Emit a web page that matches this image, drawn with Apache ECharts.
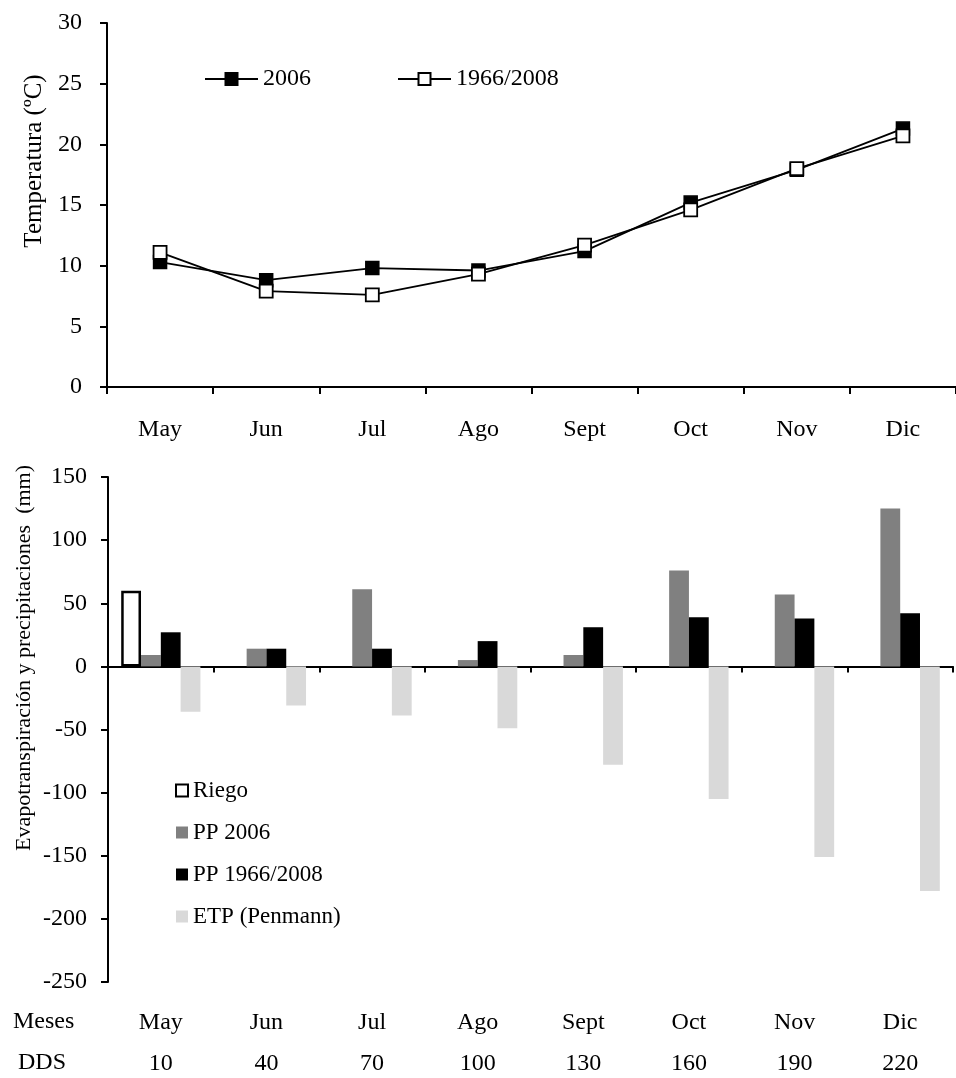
<!DOCTYPE html>
<html>
<head>
<meta charset="utf-8">
<script src="https://cdn.jsdelivr.net/npm/echarts@6/dist/echarts.min.js"></script>
<style>
  html, body { margin: 0; padding: 0; background: #fff; }
  #chart { width: 956px; height: 1078px; }
</style>
</head>
<body>
<div id="chart"></div>
<script>
// Months of the season and days after sowing (DDS)
const months = ['May', 'Jun', 'Jul', 'Ago', 'Sept', 'Oct', 'Nov', 'Dic'];
const dds = ['10', '40', '70', '100', '130', '160', '190', '220'];

// Mean monthly temperature (ºC)
const temp2006 = [10.3, 8.8, 9.8, 9.6, 11.2, 15.2, 17.9, 21.3];
const temp1966_2008 = [11.1, 7.9, 7.6, 9.3, 11.7, 14.6, 18.0, 20.7];

// Water balance (mm)
const riego = [60, null, null, null, null, null, null, null];
const pp2006 = [9, 14, 61, 5, 9, 76, 57, 125];
const pp1966_2008 = [27, 14, 14, 20, 31, 39, 38, 42];
const etpPenmann = [-36, -31, -39, -49, -78, -105, -151, -178];

const FONT = 'Liberation Serif, Times New Roman, serif';
const tickFont = { fontFamily: FONT, fontSize: 24, color: '#000' };

const chart = echarts.init(document.getElementById('chart'), null, { renderer: 'canvas' });

const axisLine = { show: true, onZero: true, lineStyle: { color: '#000', width: 2 } };
const axisTick = { show: true, inside: false, length: 7, lineStyle: { color: '#000', width: 2 } };

chart.setOption({
  animation: false,
  backgroundColor: '#fff',
  textStyle: { fontFamily: FONT },
  grid: [
    { left: 107, right: -6, top: 23, height: 364, containLabel: false },
    { left: 108, right: 3, top: 477, height: 505, containLabel: false }
  ],
  legend: [
    {
      data: ['2006', '1966/2008'],
      left: 199, top: 62,
      orient: 'horizontal',
      itemWidth: 53, itemHeight: 15, itemGap: 86,
      textStyle: { fontFamily: FONT, fontSize: 24, color: '#000' }
    },
    {
      data: ['Riego', 'PP 2006', 'PP 1966/2008', 'ETP (Penmann)'],
      left: 170, top: 774,
      orient: 'vertical',
      icon: 'rect',
      itemWidth: 12, itemHeight: 12, itemGap: 19,
      textStyle: { fontFamily: FONT, fontSize: 23, color: '#000' }
    }
  ],
  xAxis: [
    {
      type: 'category', gridIndex: 0, data: months, boundaryGap: true,
      axisLine, axisTick: { ...axisTick, alignWithLabel: false },
      axisLabel: { ...tickFont, margin: 31, interval: 0 },
      splitLine: { show: false }
    },
    {
      type: 'category', gridIndex: 1, data: months, boundaryGap: true,
      axisLine, axisTick: { ...axisTick, length: 6 },
      axisLabel: { show: false },
      splitLine: { show: false }
    },
    {
      type: 'category', gridIndex: 1, data: months, boundaryGap: true,
      position: 'bottom',
      axisLine: { show: false, onZero: false }, axisTick: { show: false },
      axisLabel: {
        interval: 0, margin: 20,
        formatter: (v, i) => '{m|' + v + '}\n{d|' + dds[i] + '}',
        rich: {
          m: { fontFamily: FONT, fontSize: 24, color: '#000', lineHeight: 41 },
          d: { fontFamily: FONT, fontSize: 24, color: '#000', lineHeight: 41 }
        }
      },
      splitLine: { show: false }
    }
  ],
  yAxis: [
    {
      type: 'value', gridIndex: 0, min: 0, max: 30, interval: 5,
      axisLine: { show: true, lineStyle: { color: '#000', width: 2 } },
      axisTick,
      axisLabel: { ...tickFont, margin: 25 },
      splitLine: { show: false }
    },
    {
      type: 'value', gridIndex: 1, min: -250, max: 150, interval: 50,
      axisLine: { show: true, lineStyle: { color: '#000', width: 2 } },
      axisTick,
      axisLabel: { ...tickFont, margin: 21 },
      splitLine: { show: false }
    }
  ],
  graphic: [
    {
      type: 'text', x: 34, y: 161, rotation: Math.PI / 2,
      style: { text: 'Temperatura (ºC)', font: '25px ' + FONT, fill: '#000',
               align: 'center', verticalAlign: 'middle', textAlign: 'center', textVerticalAlign: 'middle' }
    },
    {
      type: 'text', x: 24, y: 658, rotation: Math.PI / 2,
      style: { text: 'Evapotranspiración y precipitaciones  (mm)', font: '22px ' + FONT, fill: '#000',
               align: 'center', verticalAlign: 'middle', textAlign: 'center', textVerticalAlign: 'middle' }
    },
    {
      type: 'text', x: 13, y: 1022,
      style: { text: 'Meses', font: '24px ' + FONT, fill: '#000',
               align: 'left', verticalAlign: 'middle', textAlign: 'left', textVerticalAlign: 'middle' }
    },
    {
      type: 'text', x: 18, y: 1063,
      style: { text: 'DDS', font: '24px ' + FONT, fill: '#000',
               align: 'left', verticalAlign: 'middle', textAlign: 'left', textVerticalAlign: 'middle' }
    }
  ],
  series: [
    {
      name: '2006', type: 'line', xAxisIndex: 0, yAxisIndex: 0, data: temp2006,
      symbol: 'rect', symbolSize: 13,
      lineStyle: { color: '#000', width: 1.8 },
      itemStyle: { color: '#000', borderColor: '#000', borderWidth: 1.5 },
      z: 2
    },
    {
      name: '1966/2008', type: 'line', xAxisIndex: 0, yAxisIndex: 0, data: temp1966_2008,
      symbol: 'rect', symbolSize: 13,
      lineStyle: { color: '#000', width: 1.8 },
      itemStyle: { color: '#fff', borderColor: '#000', borderWidth: 1.8 },
      z: 3
    },
    {
      name: 'Riego', type: 'bar', xAxisIndex: 1, yAxisIndex: 1, data: riego,
      barGap: '0%', barCategoryGap: '25%',
      itemStyle: { color: '#fff', borderColor: '#000', borderWidth: 2.5 }
    },
    {
      name: 'PP 2006', type: 'bar', xAxisIndex: 1, yAxisIndex: 1, data: pp2006,
      barGap: '0%', barCategoryGap: '25%',
      itemStyle: { color: '#808080' }
    },
    {
      name: 'PP 1966/2008', type: 'bar', xAxisIndex: 1, yAxisIndex: 1, data: pp1966_2008,
      barGap: '0%', barCategoryGap: '25%',
      itemStyle: { color: '#000' }
    },
    {
      name: 'ETP (Penmann)', type: 'bar', xAxisIndex: 1, yAxisIndex: 1, data: etpPenmann,
      barGap: '0%', barCategoryGap: '25%',
      itemStyle: { color: '#d9d9d9' }
    }
  ]
});
</script>
</body>
</html>
